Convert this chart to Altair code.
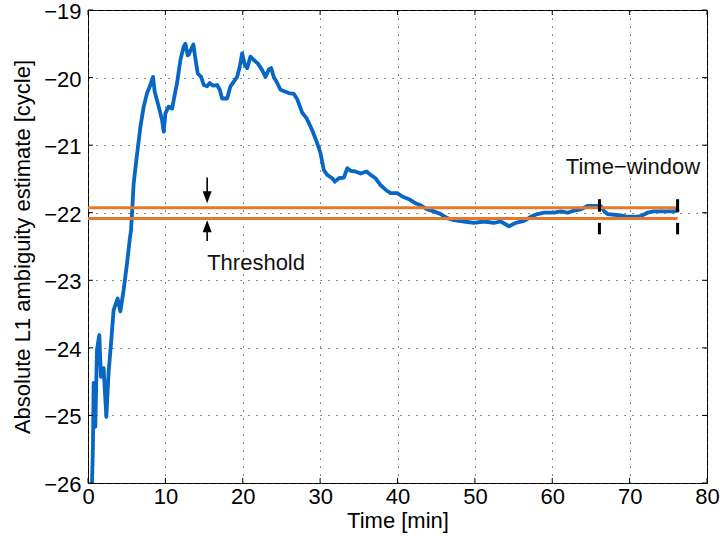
import altair as alt
import pandas as pd

# ---- data ----
time_min = [0.52, 0.64, 0.73, 0.94, 1.16, 1.46, 1.68, 2.02, 2.37, 2.67, 2.98, 3.31, 3.83, 4.18,
            4.61, 5.04, 5.39, 5.56, 5.69, 5.90, 6.25, 6.77, 7.20, 7.63, 8.06, 8.40, 8.62, 9.14,
            9.57, 9.79, 10.00, 10.43, 10.87, 11.08, 11.51, 11.94, 12.37, 12.59, 12.89, 13.01,
            13.62, 13.88, 14.18, 14.62, 14.96, 15.39, 15.73, 16.17, 16.69, 17.03, 17.33, 17.98,
            18.41, 18.84, 19.28, 19.61, 19.92, 20.26, 20.57, 21.00, 21.42, 21.94, 22.51, 22.94,
            23.37, 23.67, 24.01, 24.45, 24.88, 25.52, 25.95, 26.60, 27.04, 27.68, 28.24, 28.98,
            29.62, 30.05, 30.48, 30.92, 31.56, 31.90, 32.42, 33.07, 33.51, 33.93, 34.58, 35.23,
            36.00, 36.52, 37.17, 37.81, 38.46, 39.11, 39.97, 40.62, 41.48, 42.34, 42.99, 43.85,
            44.71, 45.58, 46.44, 47.30, 48.59, 49.88, 51.18, 52.47, 53.34, 54.41, 55.28, 56.35,
            57.22, 58.08, 58.94, 60.23, 61.10, 61.97, 62.82, 63.69, 64.55, 65.41, 66.27, 66.70,
            67.14, 68.00, 68.86, 69.73, 70.58, 71.45, 72.31, 73.17, 74.47, 75.76, 76.20]
ambiguity = [-26.00, -25.46, -24.52, -25.17, -24.03, -23.81, -24.43, -24.30, -25.02, -24.35,
             -23.93, -23.44, -23.27, -23.46, -23.14, -22.75, -22.40, -22.26, -22.01, -21.57,
             -21.22, -20.73, -20.43, -20.23, -20.11, -19.99, -20.21, -20.43, -20.63, -20.80,
             -20.53, -20.43, -20.46, -20.33, -20.08, -19.74, -19.54, -19.50, -19.67, -19.66,
             -19.51, -19.72, -19.94, -19.99, -20.11, -20.13, -20.08, -20.12, -20.11, -20.18,
             -20.31, -20.31, -20.13, -20.06, -19.99, -19.84, -19.64, -19.81, -19.86, -19.69,
             -19.74, -19.79, -19.89, -19.99, -19.88, -19.86, -19.99, -20.08, -20.18, -20.21,
             -20.23, -20.24, -20.32, -20.52, -20.60, -20.78, -20.97, -21.12, -21.37, -21.44,
             -21.49, -21.54, -21.49, -21.48, -21.34, -21.38, -21.39, -21.42, -21.39, -21.44,
             -21.49, -21.59, -21.66, -21.71, -21.71, -21.76, -21.80, -21.86, -21.89, -21.95,
             -21.98, -22.02, -22.08, -22.11, -22.13, -22.15, -22.13, -22.15, -22.13, -22.20,
             -22.15, -22.12, -22.06, -22.02, -22.00, -22.00, -21.98, -22.00, -21.97, -21.95,
             -21.90, -21.90, -21.90, -21.98, -22.02, -22.03, -22.04, -22.06, -22.06, -22.05,
             -22.00, -21.98, -21.98, -21.98, -21.97]

threshold_levels = [-21.925, -22.085]
threshold_start = 0.0
threshold_end = 76.2
window_edges = [66.1, 76.2]
window_upper = [-21.80, -21.985]
window_lower = [-22.15, -22.32]
arrow_time = 15.4
arrow_down = [-21.48, -21.74, -21.86]   # shaft top, shaft bottom, tip
arrow_up = [-22.42, -22.24, -22.11]     # shaft bottom, shaft top, tip
label_text = ["Threshold", "Time\u2212window"]
label_time = [15.4, 61.75]
label_value = [-22.85, -21.42]
x_ticks = list(range(0, 81, 10))
y_ticks = list(range(-26, -18))

W, H = 619, 473
FONT = "Liberation Sans"
BLUE = "#0866c4"
ORANGE = "#e8772c"

xs = alt.Scale(domain=[0, 80], nice=False, zero=False)
ys = alt.Scale(domain=[-26, -19], nice=False, zero=False)

X_AXIS = alt.Axis(
    values=x_ticks, format="d", title="Time [min]", grid=True,
    ticks=False, tickSize=0, domain=False, labelPadding=3,
    labelFlush=False, labelOverlap=False,
    titleX=W / 2, titleY=44, titleBaseline="alphabetic", titleAlign="center")
Y_AXIS = alt.Axis(
    values=y_ticks, format="d", title="Absolute L1 ambiguity estimate [cycle]",
    grid=True, ticks=False, tickSize=0, domain=False, labelPadding=7,
    labelFlush=False, labelOverlap=False, labelOffset=1.5,
    titleX=-66, titleY=H / 2, titleAngle=270, titleBaseline="middle",
    titleAlign="center")


def X(field="t"):
    return alt.X(f"{field}:Q", scale=xs, axis=X_AXIS)


def Y(field="v"):
    return alt.Y(f"{field}:Q", scale=ys, axis=Y_AXIS)


line_df = pd.DataFrame({"t": time_min, "v": ambiguity})
line = alt.Chart(line_df).mark_line(color=BLUE, strokeWidth=3.8, strokeJoin="round",
                                    strokeCap="round", clip=True).encode(x=X(), y=Y())

thr_df = pd.DataFrame({"t": [threshold_start] * 2, "t2": [threshold_end] * 2,
                       "v": threshold_levels})
thr = alt.Chart(thr_df).mark_rule(color=ORANGE, strokeWidth=3).encode(
    x=X(), x2="t2:Q", y=Y())

win_rows = []
for e in window_edges:
    win_rows.append({"t": e, "v": window_upper[0], "v2": window_upper[1]})
    win_rows.append({"t": e, "v": window_lower[0], "v2": window_lower[1]})
win = alt.Chart(pd.DataFrame(win_rows)).mark_rule(color="black", strokeWidth=3).encode(
    x=X(), y=Y(), y2="v2:Q")

shaft_df = pd.DataFrame({"t": [arrow_time, arrow_time],
                         "v": [arrow_down[0], arrow_up[0]],
                         "v2": [arrow_down[1], arrow_up[1]]})
shafts = alt.Chart(shaft_df).mark_rule(color="black", strokeWidth=1.6).encode(
    x=X(), y=Y(), y2="v2:Q")

head_down = alt.Chart(pd.DataFrame({"t": [arrow_time], "v": [arrow_down[2]]})).mark_point(
    shape="M-0.75,-2L0.75,-2L0,0Z", size=144, filled=True, color="black", opacity=1).encode(
    x=X(), y=Y())
head_up = alt.Chart(pd.DataFrame({"t": [arrow_time], "v": [arrow_up[2]]})).mark_point(
    shape="M-0.75,2L0.75,2L0,0Z", size=144, filled=True, color="black", opacity=1).encode(
    x=X(), y=Y())

labels = alt.Chart(pd.DataFrame({"t": label_time, "v": label_value, "s": label_text})).mark_text(
    align="left", baseline="alphabetic", fontSize=22, font=FONT, color="#111111").encode(
    x=X(), y=Y(), text="s:N")

# inward tick marks on all four sides (MATLAB box style)
xt_df = pd.DataFrame({"t": x_ticks})
yt_df = pd.DataFrame({"v": y_ticks})
tick_bottom = alt.Chart(xt_df).mark_rule(color="black", strokeWidth=1).encode(
    x=X(), y=alt.value(H), y2=alt.value(H - 5))
tick_top = alt.Chart(xt_df).mark_rule(color="black", strokeWidth=1).encode(
    x=X(), y=alt.value(0), y2=alt.value(5))
tick_left = alt.Chart(yt_df).mark_rule(color="black", strokeWidth=1).encode(
    y=Y(), x=alt.value(0), x2=alt.value(5))
tick_right = alt.Chart(yt_df).mark_rule(color="black", strokeWidth=1).encode(
    y=Y(), x=alt.value(W), x2=alt.value(W - 5))

chart = alt.layer(
    line, thr, win, shafts, head_down, head_up, labels,
    tick_bottom, tick_top, tick_left, tick_right
).properties(
    width=W, height=H, autosize="none",
    padding={"left": 88, "top": 10, "right": 13, "bottom": 62},
    background="white",
).configure_view(
    stroke="black", strokeWidth=1
).configure_axis(
    labelFont=FONT, labelFontSize=22, labelColor="black",
    titleFont=FONT, titleFontSize=22, titleFontWeight="normal", titleColor="black",
    gridColor="#3a3a3a", gridDash=[1.2, 6.8], gridWidth=1, gridOpacity=1,
)

chart.save("out.html", embed_options={"renderer": "svg", "actions": False})
